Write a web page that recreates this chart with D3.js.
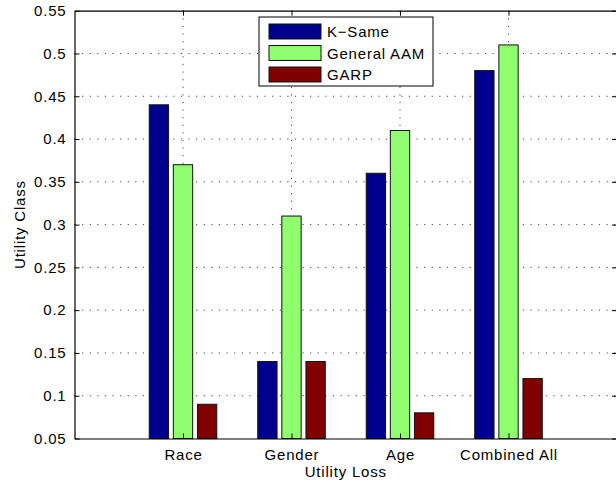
<!DOCTYPE html>
<html>
<head>
<meta charset="utf-8">
<script src="https://cdn.jsdelivr.net/npm/d3@7"></script>
<style>
  html, body { margin: 0; padding: 0; background: #fff; }
  text { font-family: "Liberation Sans", Arial, Helvetica, sans-serif; font-size: 15px; letter-spacing: 0.8px; fill: #000; }
</style>
</head>
<body>
<svg id="chart" width="616" height="480"></svg>
<script>
const categories = ["Race", "Gender", "Age", "Combined All"];
const seriesNames = ["K\u2212Same", "General AAM", "GARP"];
const kSame = [0.44, 0.14, 0.36, 0.48];
const generalAAM = [0.37, 0.31, 0.41, 0.51];
const garp = [0.09, 0.14, 0.08, 0.12];
const seriesColors = ["#00008f", "#8fff70", "#800000"];
const yTicks = [0.05, 0.1, 0.15, 0.2, 0.25, 0.3, 0.35, 0.4, 0.45, 0.5, 0.55];
const yTickLabels = ["0.05", "0.1", "0.15", "0.2", "0.25", "0.3", "0.35", "0.4", "0.45", "0.5", "0.55"];

const series = [kSame, generalAAM, garp];
const L = 74.5, R = 617, T = 10.7, B = 438.5;
const svg = d3.select("#chart");

const x = d3.scaleLinear().domain([0, 5]).range([L, R]);
const y = d3.scaleLinear().domain([0.05, 0.55]).range([B, T]);
const catPos = categories.map((c, i) => i + 1);

// grid
const grid = svg.append("g");
grid.selectAll("line.hg").data(yTicks.slice(1, -1)).enter().append("line")
  .attr("x1", L).attr("x2", R).attr("y1", d => y(d)).attr("y2", d => y(d))
  .attr("stroke", "#444").attr("stroke-width", 1).attr("stroke-dasharray", "1.2,6.4");
grid.selectAll("line.vg").data(catPos).enter().append("line")
  .attr("x1", d => x(d)).attr("x2", d => x(d)).attr("y1", T).attr("y2", B)
  .attr("stroke", "#444").attr("stroke-width", 1).attr("stroke-dasharray", "1.2,6.4");

// bars
const off = 0.2222, bw = 0.178;
series.forEach((vals, si) => {
  svg.append("g").selectAll("rect").data(vals).enter().append("rect")
    .attr("x", (d, i) => x(catPos[i] + (si - 1) * off - bw / 2))
    .attr("width", x(bw) - x(0))
    .attr("y", d => y(d))
    .attr("height", d => y(0.05) - y(d))
    .attr("fill", seriesColors[si])
    .attr("stroke", "#111").attr("stroke-width", 1);
});

// axes
const yAxisL = d3.axisLeft(y).tickValues(yTicks).tickFormat((d, i) => yTickLabels[i]).tickSizeInner(-5).tickSizeOuter(0).tickPadding(8);
const yAxisR = d3.axisRight(y).tickValues(yTicks).tickFormat("").tickSizeInner(-5).tickSizeOuter(0);
const xAxisB = d3.axisBottom(x).tickValues(catPos).tickFormat((d, i) => categories[i]).tickSizeInner(-5).tickSizeOuter(0).tickPadding(11);
const xAxisT = d3.axisTop(x).tickValues(catPos).tickFormat("").tickSizeInner(-5).tickSizeOuter(0);

function styleAxis(g) {
  g.select(".domain").attr("stroke", "#000").attr("stroke-width", 1.2);
  g.selectAll(".tick line").attr("stroke", "#000");
  g.selectAll(".tick text").attr("font-size", 15).attr("font-family", null).attr("fill", "#000");
}
svg.append("g").attr("transform", `translate(${L},0)`).call(yAxisL).call(styleAxis);
svg.append("g").attr("transform", `translate(${R},0)`).call(yAxisR).call(styleAxis);
svg.append("g").attr("transform", `translate(0,${B})`).call(xAxisB).call(styleAxis);
svg.append("g").attr("transform", `translate(0,${T})`).call(xAxisT).call(styleAxis);

// axis labels
svg.append("text").attr("x", (L + R) / 2).attr("y", 477).attr("text-anchor", "middle").text("Utility Loss");
svg.append("text").attr("transform", `translate(25,${(T + B) / 2}) rotate(-90)`).attr("text-anchor", "middle").text("Utility Class");

// legend
const lg = svg.append("g");
lg.append("rect").attr("x", 259).attr("y", 17).attr("width", 174).attr("height", 69)
  .attr("fill", "#fff").attr("stroke", "#000").attr("stroke-width", 1);
seriesNames.forEach((name, i) => {
  const yy = 24 + i * 21.5;
  lg.append("rect").attr("x", 269).attr("y", yy).attr("width", 52).attr("height", 15)
    .attr("fill", seriesColors[i]).attr("stroke", "#111").attr("stroke-width", 1);
  lg.append("text").attr("x", 327).attr("y", yy + 13).text(name);
});
</script>
</body>
</html>
